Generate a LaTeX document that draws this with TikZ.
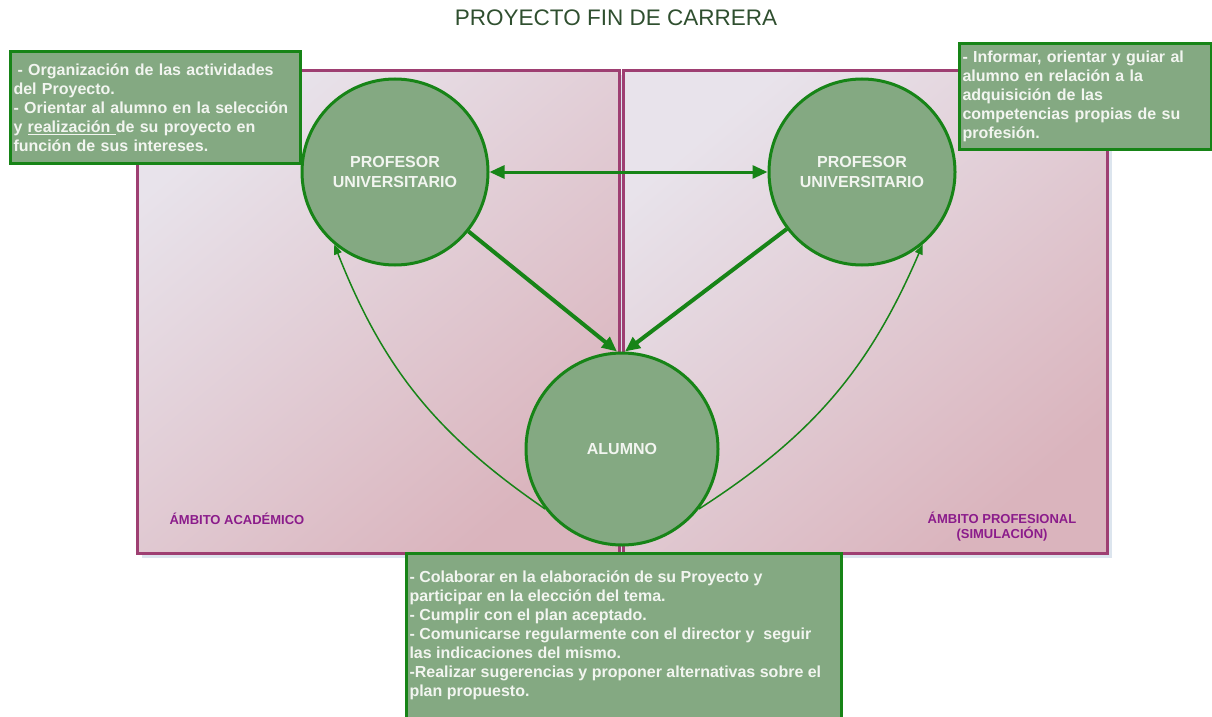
\documentclass[tikz,border=0pt]{standalone}
\usepackage{fontspec}
\setmainfont{Liberation Sans}
\usetikzlibrary{arrows.meta}
\definecolor{verdeBorde}{HTML}{178417}
\definecolor{verdeFondo}{HTML}{84A982}
\definecolor{textoClaro}{HTML}{F2F5F0}
\definecolor{moradoBorde}{HTML}{9E3F72}
\definecolor{moradoTexto}{HTML}{8B1C8B}
\definecolor{rosaClaro}{HTML}{E8E3EB}
\definecolor{rosaOscuro}{HTML}{DAB4BD}
\definecolor{sombra}{HTML}{DCE5EE}
\definecolor{tituloVerde}{HTML}{2F4F2F}
\tikzset{
  ambito/.style={draw=moradoBorde, line width=3pt, top color=rosaClaro, bottom color=rosaOscuro,
    shading angle=40, anchor=north west, inner sep=0pt},
  persona/.style={circle, draw=verdeBorde, line width=3pt, fill=verdeFondo, inner sep=0pt,
    align=center, text=textoClaro, font=\fontsize{16}{20}\selectfont\bfseries},
  nota/.style={rectangle, draw=verdeBorde, line width=3pt, fill=verdeFondo, align=left,
    text=textoClaro, font=\fontsize{16}{19}\selectfont\bfseries, inner sep=3pt, anchor=north west},
  etiqueta/.style={text=moradoTexto, font=\fontsize{13}{15}\selectfont\bfseries, align=center},
  flecha/.style={-{Triangle[length=15pt,width=13pt]}, draw=verdeBorde, line width=4pt},
  doble/.style={{Triangle[length=15pt,width=13pt]}-{Triangle[length=15pt,width=13pt]}, draw=verdeBorde, line width=3pt},
  curva/.style={-{Triangle[length=10pt,width=8pt]}, draw=verdeBorde, line width=1.5pt},
}
\begin{document}
\begin{tikzpicture}[x=1pt, y=-1pt]
  \useasboundingbox (0,0) rectangle (1212,717);
  % ambitos
  \fill[sombra] (142,75) rectangle (1112,558);
  \node[ambito, minimum width=482pt, minimum height=483pt] (ambitoA) at (136,69) {};
  \node[ambito, minimum width=484pt, minimum height=483pt] (ambitoB) at (622,69) {};
  \node[etiqueta, anchor=west] (lblA) at (166,519) {ÁMBITO ACADÉMICO};
  \node[etiqueta] (lblB) at (1002,527) {ÁMBITO PROFESIONAL\\(SIMULACIÓN)};
  % personas
  \node[persona, minimum size=186pt] (profA) at (395,172) {PROFESOR\\UNIVERSITARIO};
  \node[persona, minimum size=186pt] (profB) at (862,172) {PROFESOR\\UNIVERSITARIO};
  \node[persona, minimum size=192pt] (alumno) at (622,449) {ALUMNO};
  % relaciones
  \draw[doble] (profA) -- (profB);
  \draw[flecha] (profA) -- ([xshift=-5pt]alumno.north);
  \draw[flecha] (profB) -- ([xshift=3pt]alumno.north);
  \draw[curva] (alumno.218) to[bend left=17] (profA.230);
  \draw[curva] (alumno.-38) to[bend right=17] (profB.-50);
  % notas
  \node[nota, text width=284pt, minimum height=112pt] (notaA) at (9,50)
    {\hspace*{4pt}- Organización de las actividades\\del Proyecto.\\- Orientar al alumno en la selección\\y \underline{realización\ }de su proyecto en\\función de sus intereses.};
  \node[nota, text width=246pt, minimum height=106pt] (notaB) at (958,42)
    {- Informar, orientar y guiar al\\alumno en relación a la\\adquisición de las\\competencias propias de su\\profesión.};
  \node[nota, inner ysep=0pt] (notaC) at (405,552)
    {\parbox[t][180pt][t]{429pt}{\raggedright\vspace*{17pt}- Colaborar en la elaboración de su Proyecto y\\participar en la elección del tema.\\- Cumplir con el plan aceptado.\\- Comunicarse regularmente con el director y\ \ seguir\\las indicaciones del mismo.\\-Realizar sugerencias y proponer alternativas sobre el\\plan propuesto.}};
  \node[font=\fontsize{22.5}{27}\selectfont, text=tituloVerde] (titulo) at (616,18) {PROYECTO FIN DE CARRERA};
\end{tikzpicture}
\end{document}
